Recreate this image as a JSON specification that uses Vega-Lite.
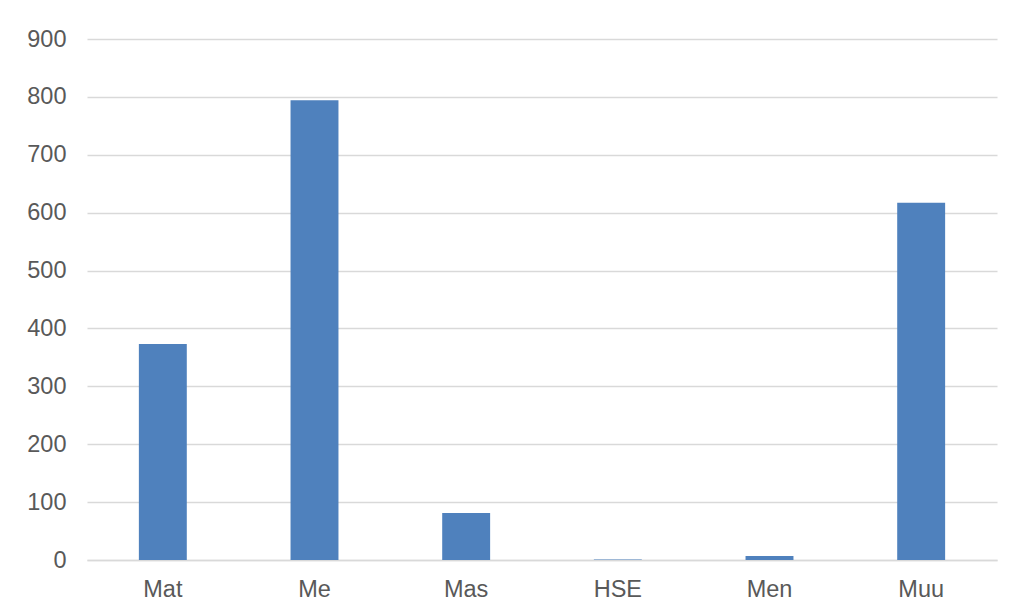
{
  "$schema": "https://vega.github.io/schema/vega-lite/v6.json",
  "width": 910,
  "height": 521,
  "autosize": "none",
  "padding": {"left": 87, "top": 39, "right": 19, "bottom": 50},
  "background": "white",
  "data": {"values": [
    {"cat": "Mat", "value": 373},
    {"cat": "Me", "value": 794},
    {"cat": "Mas", "value": 81},
    {"cat": "HSE", "value": 1},
    {"cat": "Men", "value": 7},
    {"cat": "Muu", "value": 617}
  ]},
  "mark": {"type": "bar", "color": "#4F81BD"},
  "encoding": {
    "x": {
      "field": "cat", "type": "nominal", "sort": null, "title": null,
      "scale": {"paddingInner": 0.684, "paddingOuter": 0.342},
      "axis": {"labelAngle": 0, "ticks": false, "domainColor": "#d9d9d9", "domainWidth": 1.5, "labelPadding": 17}
    },
    "y": {
      "field": "value", "type": "quantitative", "title": null,
      "scale": {"domain": [0, 900], "nice": false},
      "axis": {"values": [0,100,200,300,400,500,600,700,800,900], "ticks": false, "domain": false, "gridColor": "#d9d9d9", "gridWidth": 1.5, "labelPadding": 21}
    }
  },
  "config": {
    "view": {"stroke": null},
    "axis": {"labelFont": "Liberation Sans", "labelFontSize": 23.5, "labelColor": "#595959"}
  }
}
